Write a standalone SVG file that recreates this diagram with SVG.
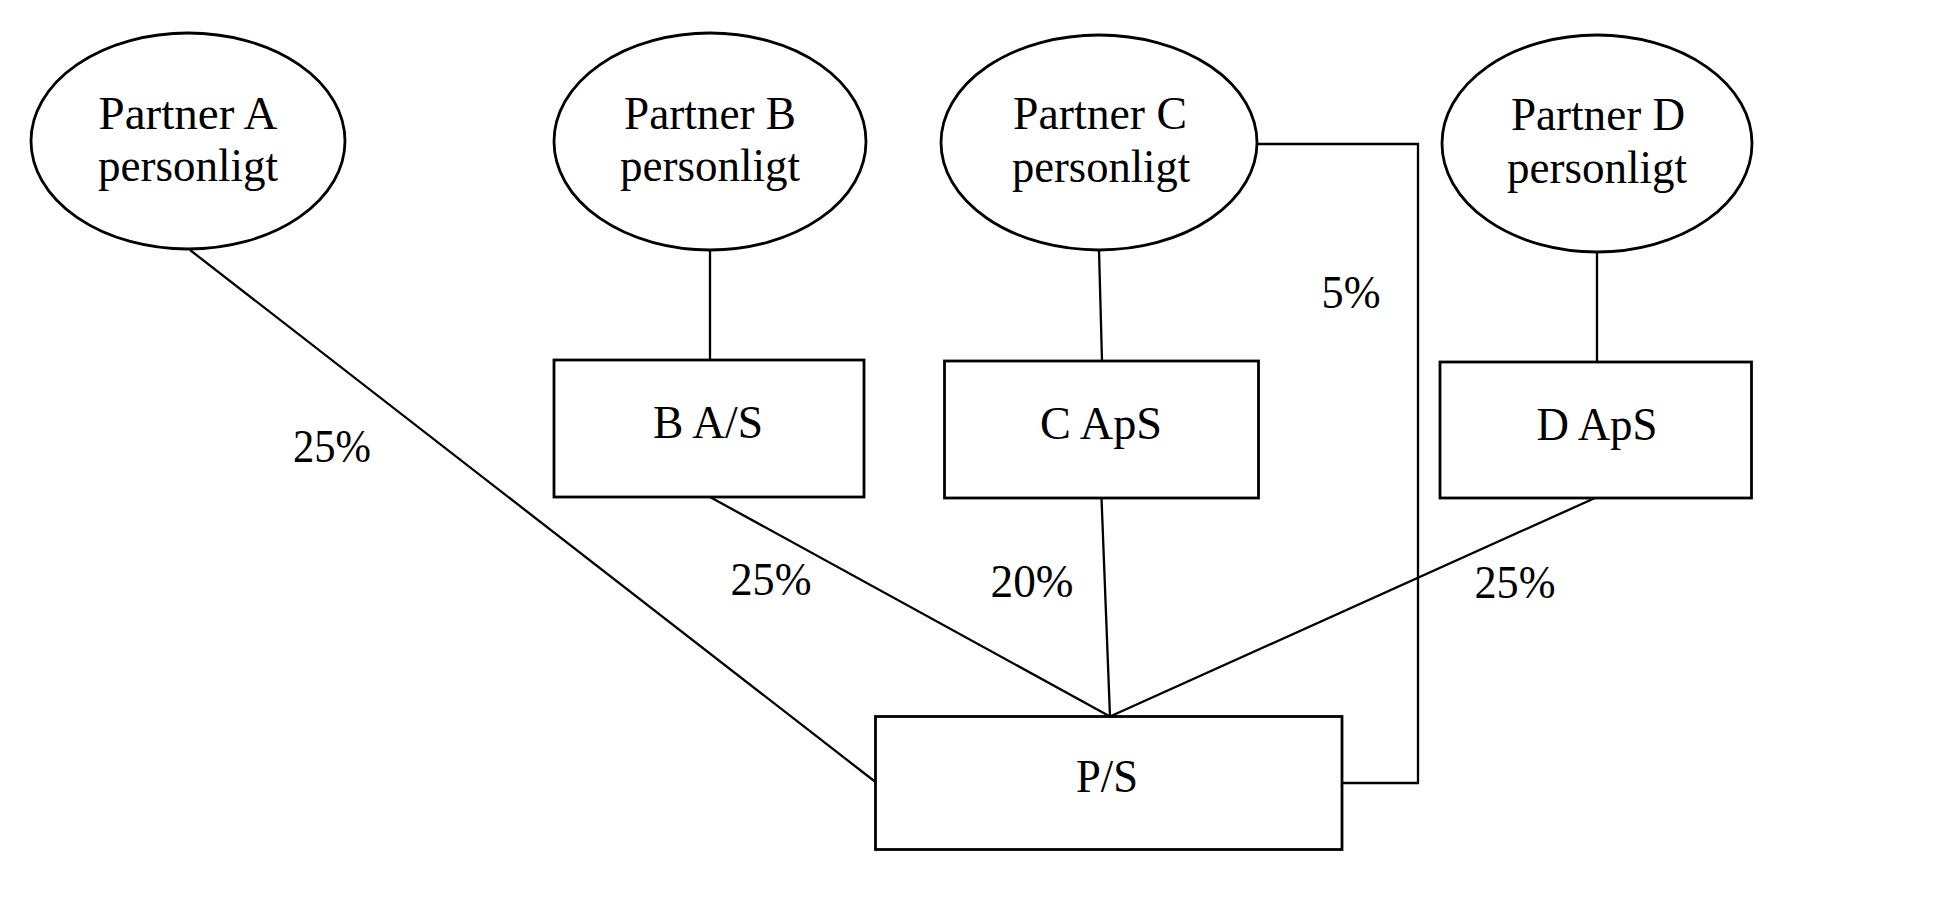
<svg xmlns="http://www.w3.org/2000/svg" width="1952" height="903" viewBox="0 0 1952 903">
<style>
.sh{fill:#fff;stroke:#000;stroke-width:2.8}
.ln{fill:none;stroke:#000;stroke-width:2.3}
text{font-family:"Liberation Serif","Times New Roman",serif;font-size:47px;fill:#000;text-anchor:middle}
</style>
<rect width="1952" height="903" fill="#fff"/>
<g id="connectors">
<line class="ln" x1="190" y1="250" x2="875.5" y2="782"/>
<line class="ln" x1="710" y1="250" x2="710" y2="360"/>
<line class="ln" x1="1099" y1="250" x2="1102" y2="361"/>
<line class="ln" x1="1597" y1="252" x2="1597" y2="362"/>
<line class="ln" x1="710" y1="497" x2="1110" y2="716.5"/>
<line class="ln" x1="1101.5" y1="498" x2="1110" y2="716.5"/>
<line class="ln" x1="1595" y1="498" x2="1110" y2="716.5"/>
<polyline class="ln" points="1257,144 1418,144 1418,783 1342,783"/>
<text x="332" y="462" textLength="78" lengthAdjust="spacingAndGlyphs">25%</text>
<text x="771" y="595" textLength="81" lengthAdjust="spacingAndGlyphs">25%</text>
<text x="1032" y="597" textLength="83" lengthAdjust="spacingAndGlyphs">20%</text>
<text x="1515" y="598" textLength="81" lengthAdjust="spacingAndGlyphs">25%</text>
<text x="1351" y="308" textLength="59" lengthAdjust="spacingAndGlyphs">5%</text>
</g>
<g id="partnerA">
<ellipse class="sh" cx="188" cy="141" rx="157" ry="108"/>
<text x="188" y="129" textLength="179" lengthAdjust="spacingAndGlyphs">Partner A</text>
<text x="188" y="181" textLength="180" lengthAdjust="spacingAndGlyphs">personligt</text>
</g>
<g id="partnerB">
<ellipse class="sh" cx="710" cy="141.5" rx="156" ry="108.5"/>
<text x="710" y="129" textLength="172" lengthAdjust="spacingAndGlyphs">Partner B</text>
<text x="710" y="181" textLength="180" lengthAdjust="spacingAndGlyphs">personligt</text>
</g>
<g id="partnerC">
<ellipse class="sh" cx="1099" cy="142.5" rx="158" ry="107.5"/>
<text x="1100" y="129" textLength="174" lengthAdjust="spacingAndGlyphs">Partner C</text>
<text x="1101" y="182" textLength="178" lengthAdjust="spacingAndGlyphs">personligt</text>
</g>
<g id="partnerD">
<ellipse class="sh" cx="1597" cy="143.5" rx="155" ry="108.5"/>
<text x="1598" y="130" textLength="174" lengthAdjust="spacingAndGlyphs">Partner D</text>
<text x="1597" y="183" textLength="180" lengthAdjust="spacingAndGlyphs">personligt</text>
</g>
<g id="bas">
<rect class="sh" x="554" y="360" width="310" height="137"/>
<text x="708" y="438" textLength="110" lengthAdjust="spacingAndGlyphs">B A/S</text>
</g>
<g id="caps">
<rect class="sh" x="944.5" y="361" width="314" height="137"/>
<text x="1101" y="439" textLength="122" lengthAdjust="spacingAndGlyphs">C ApS</text>
</g>
<g id="daps">
<rect class="sh" x="1440" y="362" width="311.5" height="136"/>
<text x="1597" y="440" textLength="121" lengthAdjust="spacingAndGlyphs">D ApS</text>
</g>
<g id="ps">
<rect class="sh" x="875.5" y="716.5" width="466.5" height="133"/>
<text x="1107" y="792" textLength="62" lengthAdjust="spacingAndGlyphs">P/S</text>
</g>
</svg>
